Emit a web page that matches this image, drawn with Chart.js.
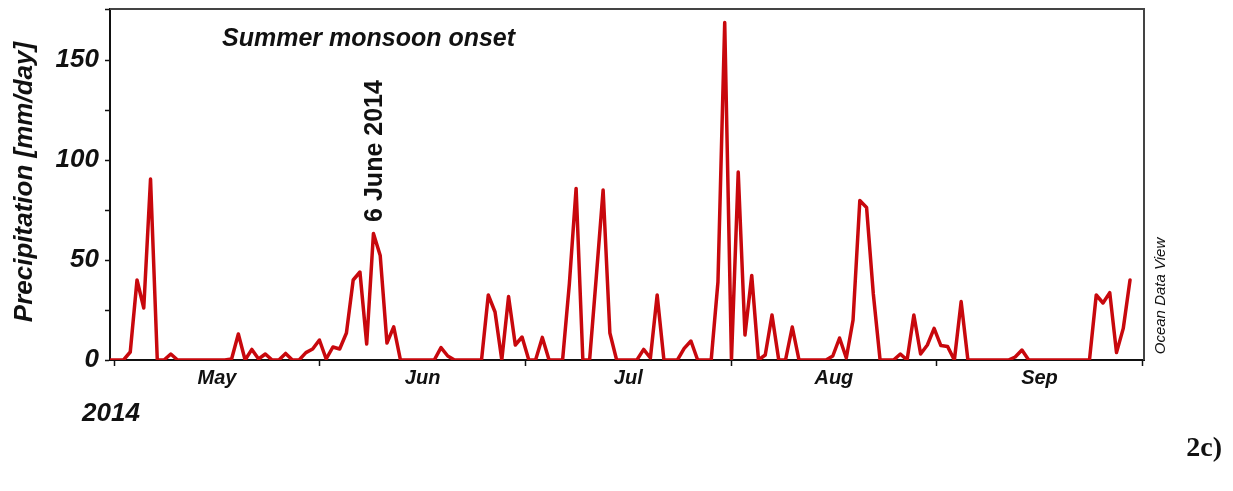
<!DOCTYPE html>
<html>
<head>
<meta charset="utf-8">
<script src="https://cdn.jsdelivr.net/npm/chart.js@4.4.1/dist/chart.umd.min.js"></script>
<style>
  html, body { margin: 0; padding: 0; background: #ffffff; }
  #wrap { width: 1233px; height: 491px; position: relative; }
</style>
</head>
<body>
<div id="wrap"><canvas id="c" width="1233" height="491"></canvas></div>
<script>
// Daily precipitation [mm/day], 2014 (day index 0 .. 151)
const precipitation = [
  0, 0, 0, 4, 40, 26, 90.5, 0, 0, 3,
  0, 0, 0, 0, 0, 0, 0, 0, 0.5, 13,
  0, 5.3, 0.5, 3, 0, 0, 3.3, 0, 0, 3.7,
  5.5, 10, 0.5, 6.5, 5.5, 13.5, 40, 44, 8, 63.3,
  52.3, 8.5, 16.6, 0, 0, 0, 0, 0, 0, 6.2,
  2, 0, 0, 0, 0, 0, 32.5, 24, 0, 31.7,
  7.5, 11.5, 0, 0, 11.3, 0, 0, 0, 38, 85.8,
  0, 0, 42, 85, 13.5, 0, 0, 0, 0, 5.3,
  1, 32.5, 0, 0, 0, 5.8, 9.5, 0, 0, 0,
  39, 168.7, 0, 94, 12.5, 42.3, 0, 2.5, 22.5, 0,
  0, 16.5, 0, 0, 0, 0, 0, 2, 11, 1,
  20, 79.7, 76.3, 33, 0, 0, 0, 3, 0, 22.5,
  3, 7.5, 15.8, 7.2, 6.7, 0, 29.2, 0, 0, 0,
  0, 0, 0, 0, 1.5, 5, 0, 0, 0, 0,
  0, 0, 0, 0, 0, 0, 32.5, 28.5, 33.7, 3.7,
  15.8, 40
];
const dayIndex = precipitation.map((_, i) => i);
const monthLabels = ['May', 'Jun', 'Jul', 'Aug', 'Sep'];
const yTickValues = [0, 25, 50, 75, 100, 125, 150, 175];
const yLabelStep = 50;
const onsetDay = 39;
const onsetLabel = '6 June 2014';

// axis geometry (in day-index units)
const X_MIN = 0, X_MAX = 153.07;
const TICK0 = 0.62, TICK_STEP = 30.44;

const boundaryTicks = [0, 1, 2, 3, 4, 5].map(k => TICK0 + k * TICK_STEP);
const midTicks = monthLabels.map((_, k) => TICK0 + (k + 0.5) * TICK_STEP);

const RED = '#c8080d';
const INK = '#111111';

const textPlugin = {
  id: 'texts',
  afterDraw(chart) {
    const ctx = chart.ctx;
    const a = chart.chartArea;
    ctx.save();
    // frame top and right
    ctx.strokeStyle = '#444444';
    ctx.lineWidth = 2;
    ctx.beginPath();
    ctx.moveTo(a.left, a.top);
    ctx.lineTo(a.right, a.top);
    ctx.lineTo(a.right, a.bottom);
    ctx.stroke();

    ctx.fillStyle = INK;
    // title inside
    ctx.font = 'italic bold 25px "Liberation Sans", Arial, sans-serif';
    ctx.textAlign = 'left';
    ctx.textBaseline = 'alphabetic';
    ctx.fillText('Summer monsoon onset', 222, 45.5);

    // onset annotation
    const xs = chart.scales.x;
    const ox = xs.getPixelForValue(onsetDay);
    ctx.save();
    ctx.translate(ox + 9, 151);
    ctx.rotate(-Math.PI / 2);
    ctx.font = 'bold 25px "Liberation Sans", Arial, sans-serif';
    ctx.textAlign = 'center';
    ctx.fillText(onsetLabel, 0, 0);
    ctx.restore();

    // y-axis title
    ctx.save();
    ctx.translate(32, 182);
    ctx.rotate(-Math.PI / 2);
    ctx.font = 'italic bold 26px "Liberation Sans", Arial, sans-serif';
    ctx.textAlign = 'center';
    ctx.fillText('Precipitation [mm/day]', 0, 0);
    ctx.restore();

    // year
    ctx.font = 'italic bold 26px "Liberation Sans", Arial, sans-serif';
    ctx.textAlign = 'left';
    ctx.fillText('2014', 82, 421);

    // ODV credit
    ctx.save();
    ctx.translate(1165, 296);
    ctx.rotate(-Math.PI / 2);
    ctx.font = 'italic 15px "Liberation Sans", Arial, sans-serif';
    ctx.textAlign = 'center';
    ctx.fillText('Ocean Data View', 0, 0);
    ctx.restore();

    // panel label
    ctx.font = 'bold 28px "Liberation Serif", "Times New Roman", serif';
    ctx.textAlign = 'right';
    ctx.fillText('2c)', 1222, 456);
    ctx.restore();
  }
};

new Chart(document.getElementById('c'), {
  type: 'line',
  data: {
    labels: dayIndex,
    datasets: [{
      data: precipitation,
      borderColor: RED,
      borderWidth: 3.5,
      pointRadius: 0,
      tension: 0,
      fill: false,
      borderJoinStyle: 'round',
      borderCapStyle: 'round'
    }]
  },
  options: {
    responsive: false,
    animation: false,
    events: [],
    layout: { padding: { left: 0, right: 89, top: 9, bottom: 0 } },
    plugins: { legend: { display: false }, tooltip: { enabled: false }, title: { display: false } },
    scales: {
      x: {
        type: 'linear',
        min: X_MIN,
        max: X_MAX,
        afterBuildTicks(s) {
          s.ticks = boundaryTicks.map(v => ({ value: v }))
            .concat(midTicks.map(v => ({ value: v })));
        },
        afterFit(s) { s.height = 131; s.paddingLeft = 0; s.paddingRight = 0; },
        ticks: {
          autoSkip: false,
          maxRotation: 0,
          padding: 0,
          color: INK,
          font: { family: '"Liberation Sans", Arial, sans-serif', size: 20, style: 'italic', weight: 'bold' },
          callback(value) {
            const k = midTicks.findIndex(m => Math.abs(m - value) < 1e-6);
            return k >= 0 ? monthLabels[k] : '';
          }
        },
        grid: {
          drawOnChartArea: false,
          drawTicks: true,
          tickLength: 6,
          tickColor(c) {
            const v = c.tick ? c.tick.value : null;
            return boundaryTicks.some(b => Math.abs(b - v) < 1e-6) ? INK : 'rgba(0,0,0,0)';
          },
          tickWidth: 1.5
        },
        border: { display: true, color: INK, width: 2 }
      },
      y: {
        type: 'linear',
        min: 0,
        max: 175.5,
        afterBuildTicks(s) { s.ticks = yTickValues.map(v => ({ value: v })); },
        afterFit(s) { s.width = 110; s.paddingTop = 0; s.paddingBottom = 0; },
        ticks: {
          padding: 6,
          color: INK,
          font: { family: '"Liberation Sans", Arial, sans-serif', size: 26, style: 'italic', weight: 'bold' },
          callback(value) { return value % yLabelStep === 0 ? String(value) : ''; }
        },
        grid: {
          drawOnChartArea: false,
          drawTicks: true,
          tickLength: 5,
          tickColor: INK,
          tickWidth: 1.5
        },
        border: { display: true, color: INK, width: 2 }
      }
    }
  },
  plugins: [textPlugin]
});
</script>
</body>
</html>
